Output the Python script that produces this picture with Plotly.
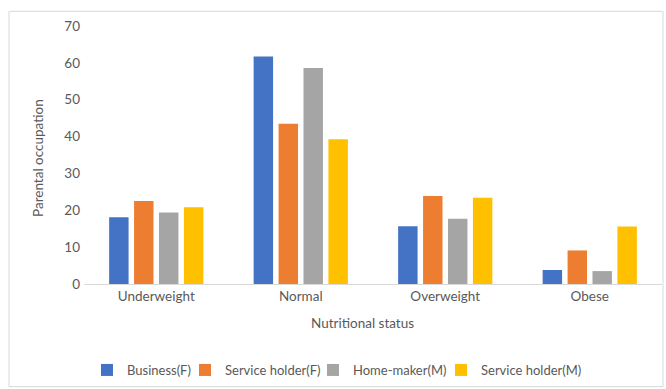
import plotly.graph_objects as go

# Nutritional status categories and counts by parental occupation
categories = ["Underweight", "Normal", "Overweight", "Obese"]
business_f = [18.1, 61.7, 15.7, 3.8]
service_f = [22.5, 43.5, 23.9, 9.1]
homemaker_m = [19.4, 58.6, 17.7, 3.5]
service_m = [20.8, 39.3, 23.4, 15.6]

series_names = ["Business(F)", "Service holder(F)", "Home-maker(M)", "Service holder(M)"]
series_values = [business_f, service_f, homemaker_m, service_m]
series_colors = ["#4472C4", "#ED7D31", "#A5A5A5", "#FFC000"]

text_color = "#595959"
font_family = "Lato, Carlito, sans-serif"
fs = 13.5
legend_fs = 13

plot_left, plot_right = 84, 662
plot_top, plot_bottom = 26, 290
W, H = 666, 389
pw = plot_right - plot_left
ph = plot_bottom - plot_top


def px_x(x):
    return (x - plot_left) / pw


def px_y(y):
    return (plot_bottom - y) / ph


# one legend box per series so the key row stays compact
legend_ids = ["legend", "legend2", "legend3", "legend4"]
legend_left_px = [87, 185, 313, 441]

fig = go.Figure()
for name, vals, color, lid in zip(series_names, series_values, series_colors, legend_ids):
    fig.add_trace(go.Bar(x=categories, y=vals, name=name, marker_color=color,
                         marker_line_width=0, legend=lid))

legend_layout = {}
for lid, lx in zip(legend_ids, legend_left_px):
    legend_layout[lid] = dict(orientation="h", x=px_x(lx), xanchor="left",
                              y=px_y(378), yanchor="middle",
                              font=dict(size=legend_fs, color=text_color),
                              bgcolor="rgba(0,0,0,0)", borderwidth=0)

fig.update_layout(
    width=W, height=H,
    margin=dict(l=plot_left, r=W - plot_right, t=plot_top, b=H - plot_bottom),
    paper_bgcolor="white", plot_bgcolor="white",
    barmode="group", bargap=0.31, bargroupgap=0.22,
    font=dict(family=font_family, size=fs, color=text_color),
    showlegend=True,
    xaxis=dict(showgrid=False, showline=True, linecolor="#D9D9D9", linewidth=1,
               ticks="", tickfont=dict(size=fs, color=text_color)),
    yaxis=dict(range=[0, 70], dtick=10, showgrid=False, zeroline=False,
               showline=False, ticks="", tickfont=dict(size=fs, color=text_color),
               ticklabelstandoff=3),
    shapes=[dict(type="rect", xref="paper", yref="paper",
                 x0=px_x(9), x1=px_x(663), y0=px_y(395), y1=px_y(11),
                 line=dict(color="#D9D9D9", width=1), layer="below")],
    annotations=[
        dict(text="Nutritional status", xref="paper", yref="paper",
             x=px_x(362), y=px_y(330), xanchor="center", yanchor="middle",
             showarrow=False, font=dict(size=fs, color=text_color)),
        dict(text="Parental occupation", xref="paper", yref="paper",
             x=px_x(38), y=px_y(161), xanchor="center", yanchor="middle",
             textangle=-90, showarrow=False,
             font=dict(size=fs, color=text_color)),
    ],
    **legend_layout,
)

fig.write_html("out.html")
